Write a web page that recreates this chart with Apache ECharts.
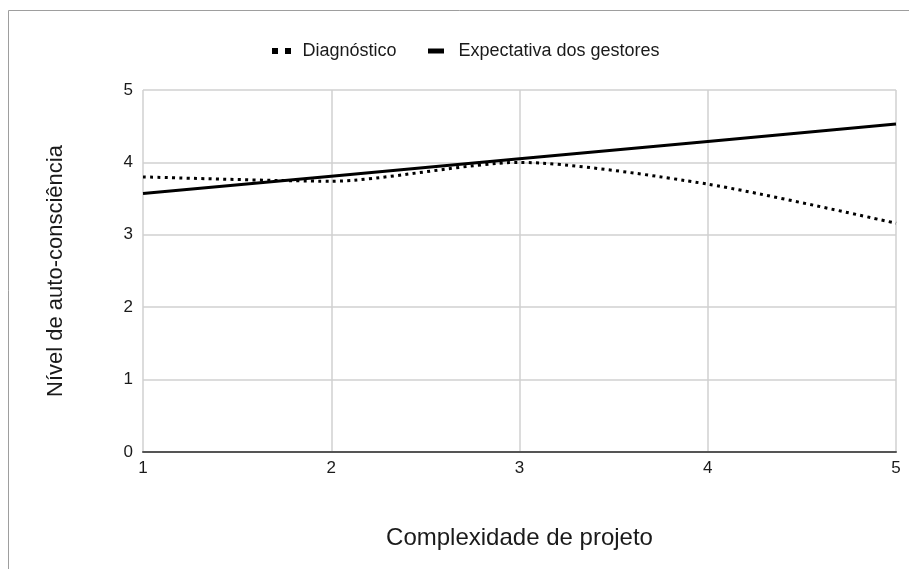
<!DOCTYPE html>
<html>
<head>
<meta charset="utf-8">
<script src="https://cdn.jsdelivr.net/npm/echarts@6/dist/echarts.min.js"></script>
<style>
  html, body { margin: 0; padding: 0; background: #fff; }
  #chart { width: 909px; height: 569px; }
</style>
</head>
<body>
<div id="chart"></div>
<script>
// Project complexity levels (x) and self-awareness scores (y)
const complexity = [1, 2, 3, 4, 5];
const diagnostico = [3.80, 3.74, 4.00, 3.70, 3.16];
const expectativa = [3.57, 3.81, 4.05, 4.29, 4.53];
const yTicks = [0, 1, 2, 3, 4, 5];

const FONT = '"Liberation Sans", Arial, sans-serif';

const pairs = (xs, ys) => xs.map((x, i) => [x, ys[i]]);

const chart = echarts.init(document.getElementById('chart'), null, { renderer: 'canvas' });

chart.setOption({
  backgroundColor: '#ffffff',
  animation: false,
  textStyle: { fontFamily: FONT },
  graphic: [{
    type: 'rect',
    shape: { x: 8.5, y: 10.5, width: 1000, height: 1000 },
    style: { fill: 'none', stroke: '#9e9e9e', lineWidth: 1 },
    silent: true
  }],
  legend: [{
    data: [{ name: 'Diagnóstico', icon: 'path://M0,0h6v6h-6zM13,0h6v6h-6z' }],
    left: 267, top: 37,
    itemWidth: 20, itemHeight: 6,
    textStyle: { fontSize: 18, color: '#1a1a1a', fontFamily: FONT, padding: [0, 0, 0, 6] }
  }, {
    data: [{ name: 'Expectativa dos gestores', icon: 'path://M0,0h16v5h-16z' }],
    left: 423, top: 37,
    itemWidth: 17, itemHeight: 5,
    textStyle: { fontSize: 18, color: '#1a1a1a', fontFamily: FONT, padding: [0, 0, 0, 9] }
  }],
  grid: { left: 143, right: 13, top: 90, bottom: 117, containLabel: false },
  xAxis: {
    type: 'value',
    min: 1, max: 5, interval: 1,
    name: 'Complexidade de projeto',
    nameLocation: 'middle',
    nameGap: 74,
    nameTextStyle: { fontSize: 24, color: '#1a1a1a', fontFamily: FONT },
    axisLine: { show: true, onZero: false, lineStyle: { color: '#555', width: 2 } },
    axisTick: { show: false },
    splitLine: { show: true, lineStyle: { color: '#d0d0d0', width: 1.5 } },
    axisLabel: { fontSize: 17, color: '#1a1a1a', margin: 8, fontFamily: FONT }
  },
  yAxis: {
    type: 'value',
    min: yTicks[0], max: yTicks[yTicks.length - 1], interval: 1,
    name: 'Nível de auto-consciência',
    nameLocation: 'middle',
    nameGap: 76,
    nameTextStyle: { fontSize: 22, color: '#1a1a1a', fontFamily: FONT },
    axisLine: { show: false },
    axisTick: { show: false },
    splitLine: { show: true, lineStyle: { color: '#d0d0d0', width: 1.5 } },
    axisLabel: { fontSize: 17, color: '#1a1a1a', margin: 10, fontFamily: FONT }
  },
  series: [{
    name: 'Diagnóstico',
    type: 'line',
    data: pairs(complexity, diagnostico),
    smooth: 0.25,
    showSymbol: false,
    itemStyle: { color: '#000' },
    lineStyle: { color: '#000', width: 3, type: [3, 4.3], cap: 'butt' },
    z: 3
  }, {
    name: 'Expectativa dos gestores',
    type: 'line',
    data: pairs(complexity, expectativa),
    showSymbol: false,
    itemStyle: { color: '#000' },
    lineStyle: { color: '#000', width: 3 },
    z: 4
  }]
});
</script>
</body>
</html>
